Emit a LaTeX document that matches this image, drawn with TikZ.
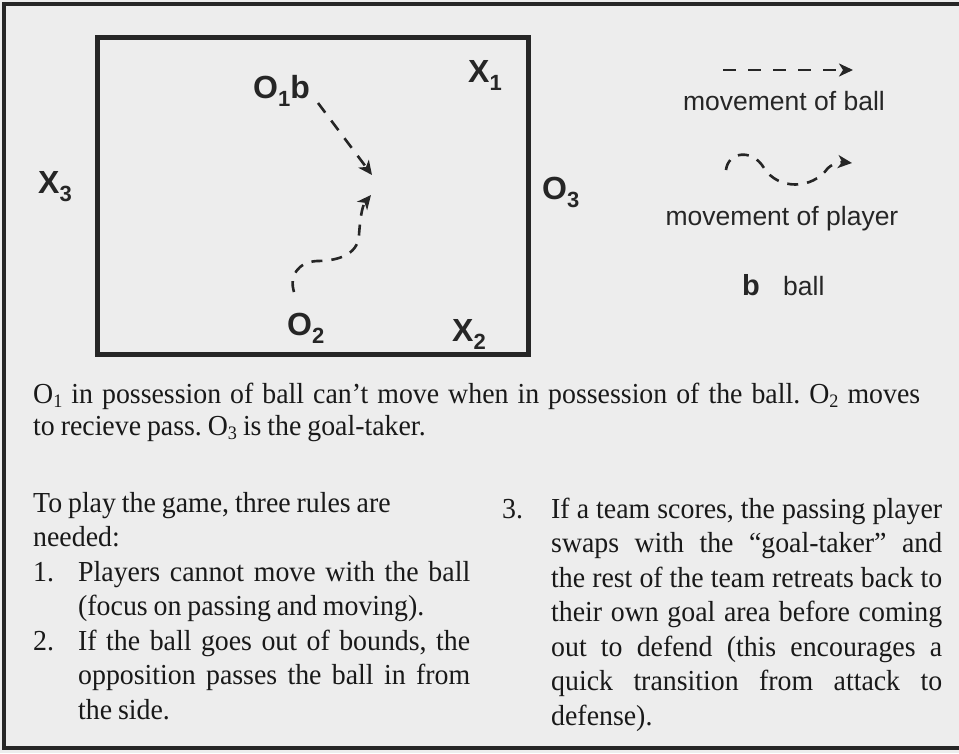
\documentclass[tikz,border=0pt]{standalone}
\usepackage{fontspec}
\setmainfont{Liberation Serif}
\newfontfamily\lblfont{Liberation Sans}
\newfontfamily\bodyfnt{Liberation Serif}[FakeStretch=0.96, WordSpace=0.85]
\usetikzlibrary{arrows.meta}
\newcommand\plab[2]{#1\raisebox{-8pt}{\fontsize{22}{22}\selectfont #2}}
\newcommand\ssub[1]{\raisebox{-4pt}{\fontsize{19}{19}\selectfont #1}}
\tikzset{
  paper/.style={fill=black!7, draw=none},
  frame/.style={line width=3.5pt, draw=black!85},
  field/.style={line width=5pt, draw=black!85},
  lbl/.style={anchor=base west, inner sep=0pt, text=black!85, font=\lblfont\bfseries\fontsize{32}{32}\selectfont},
  legend/.style={anchor=base, inner sep=0pt, text=black!85, font=\lblfont\fontsize{26.5}{26.5}\selectfont},
  legendb/.style={anchor=base west, inner sep=0pt, text=black!85, font=\lblfont\bfseries\fontsize{29}{29}\selectfont},
  movetip/.style={-{Stealth[length=14pt,width=13pt,inset=4pt]}},
  ballmove/.style={line width=2.6pt, draw=black!85, dash pattern=on 12pt off 10pt, movetip},
  playermove/.style={line width=2.6pt, draw=black!85, dash pattern=on 11pt off 9pt, movetip},
  body/.style={anchor=base west, inner sep=0pt, text height=20pt, text depth=5pt, text=black!90, font=\bodyfnt\frenchspacing\fontsize{29}{34}\selectfont},
}
\begin{document}
\begin{tikzpicture}[x=1pt,y=-1pt]
\useasboundingbox (0,0) rectangle (959,753);
\fill[paper] (0,0) rectangle (959,753);
% outer frame (right side cut off in scan)
\draw[frame] (959,4) -- (4,4) -- (4,748) -- (959,748);
% playing field
\draw[field] (97,37) rectangle (528,354);
% players
\node[lbl] (o1) at (253,98) {\plab{O}{1}b};
\node[lbl] (x1) at (468,82) {\plab{X}{1}};
\node[lbl] (x3) at (38,193) {\plab{X}{3}};
\node[lbl] (o3) at (542,199) {\plab{O}{3}};
\node[lbl] (o2) at (287,335) {\plab{O}{2}};
\node[lbl] (x2) at (452,341) {\plab{X}{2}};
% movements in the field
\coordinate (bs) at (318,103);
\coordinate (be) at (372,175);
\draw[ballmove] (bs) -- (be);
\coordinate (ps) at (294,292);
\coordinate (pm) at (317,261);
\coordinate (pn) at (359,235);
\coordinate (pe) at (371,195);
\draw[playermove] (ps) .. controls (289,276) and (298,262) .. (pm)
  .. controls (335,261) and (358,256) .. (pn)
  .. controls (360,220) and (362,206) .. (pe);
% legend
\coordinate (lbs) at (723,70);
\coordinate (lbe) at (853,70);
\draw[ballmove, dash pattern=on 13pt off 12pt] (lbs) -- (lbe);
\node[legend] (lball) at (784,110) {movement of ball};
\coordinate (lps) at (726,170);
\coordinate (lpe) at (852,163);
\draw[playermove] (lps) .. controls (728,152) and (752,148) .. (764,168)
  .. controls (778,190) and (812,190) .. (828,168)
  .. controls (835,162) and (842,162) .. (lpe);
\node[legend] (lplayer) at (782,225) {movement of player};
\node[legendb] (lb) at (742,295) {b};
\node[legend, anchor=base west] (lbtxt) at (783,295) {ball};
% explanatory text
\node[body] (t1) at (33,403) {\makebox[887pt][s]{O\ssub{1} in possession of ball can’t move when in possession of the ball. O\ssub{2} moves}};
\node[body] (t2) at (33,435) {to recieve pass. O\ssub{3} is the goal-taker.};
% left column
\node[body] (r0a) at (33,512) {To play the game, three rules are};
\node[body] (r0b) at (33,546.5) {needed:};
\node[body] (n1) at (33,581) {1.};
\node[body] (r1a) at (78,581) {\makebox[392pt][s]{Players cannot move with the ball}};
\node[body] (r1b) at (78,615.5) {(focus on passing and moving).};
\node[body] (n2) at (33,650) {2.};
\node[body] (r2a) at (78,650) {\makebox[392pt][s]{If the ball goes out of bounds, the}};
\node[body] (r2b) at (78,684.5) {\makebox[392pt][s]{opposition passes the ball in from}};
\node[body] (r2c) at (78,719) {the side.};
% right column
\node[body] (n3) at (502,518) {3.};
\node[body] (r3a) at (551,518) {\makebox[391pt][s]{If a team scores, the passing player}};
\node[body] (r3b) at (551,552.5) {\makebox[391pt][s]{swaps with the “goal-taker” and}};
\node[body] (r3c) at (551,587) {\makebox[391pt][s]{the rest of the team retreats back to}};
\node[body] (r3d) at (551,621.5) {\makebox[391pt][s]{their own goal area before coming}};
\node[body] (r3e) at (551,656) {\makebox[391pt][s]{out to defend (this encourages a}};
\node[body] (r3f) at (551,690.5) {\makebox[391pt][s]{quick transition from attack to}};
\node[body] (r3g) at (551,725) {defense).};
\end{tikzpicture}
\end{document}
